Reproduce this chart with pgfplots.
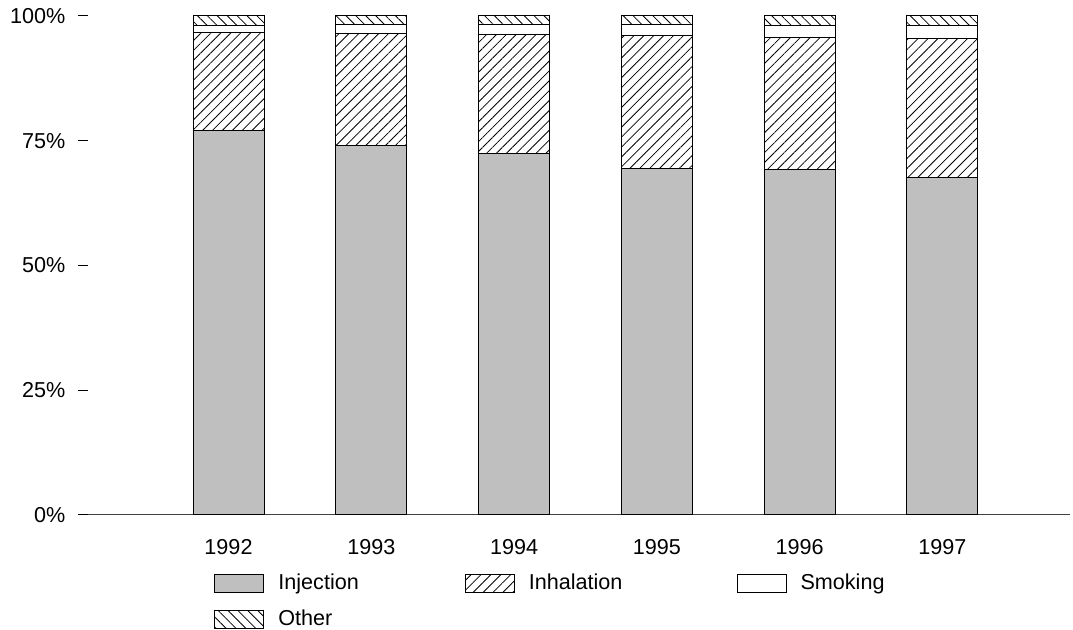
\documentclass[border=0pt]{standalone}
\usepackage{fontspec}
\setmainfont{Liberation Sans}
\usepackage{pgfplots}
\pgfplotsset{compat=1.18}
\usetikzlibrary{patterns.meta}
\definecolor{injgray}{RGB}{191,191,191}
\pgfplotsset{boxlegend/.style={legend image code/.code={\draw[##1, line width=0.5pt] (0pt,-4.5pt) rectangle (24.5pt,4.5pt);}},
  boxlegendshift/.style={legend image code/.code={\path (0pt,0pt); \draw[##1, line width=0.5pt] (4pt,-4.5pt) rectangle (28.5pt,4.5pt);}}}
\begin{document}
\fontsize{10.8}{12.9}\selectfont
\begin{tikzpicture}
\useasboundingbox (-44pt,-57.5pt) rectangle (492.5pt,257.5pt);
\begin{axis}[
  at={(0,0)}, anchor=south west,
  scale only axis, width=491pt, height=249.5pt,
  ybar stacked, bar width=35.5pt,
  xmin=1991.016, xmax=1997.893, ymin=0, ymax=100,
  axis x line=bottom, axis y line=left,
  axis line style={-, line width=0.5pt, draw=black!75},
  y axis line style={draw=none},
  xtick={1992,1993,1994,1995,1996,1997},
  xticklabels={1992,1993,1994,1995,1996,1997},
  x tick style={draw=none},
  xticklabel style={yshift=-3.5pt},
  ytick={0,25,50,75,100},
  yticklabels={0\%,25\%,50\%,75\%,100\%},
  y tick style={line width=0.5pt, draw=black},
  tick align=outside, major tick length=5pt,
  yticklabel style={xshift=-2.5pt},
  legend columns=3,
  legend cell align=left,
  legend style={draw=none, fill=none, at={(0.1222,-0.11)}, anchor=north west,
    nodes={inner sep=0pt, font=\fontsize{10.8}{12.9}\selectfont},
    /tikz/every odd column/.append style={column sep=7pt},
    /tikz/every even column/.append style={column sep=53pt},
    row sep=8.5pt},
]
\addplot+[fill=injgray, draw=black, line width=0.5pt, boxlegend]
  coordinates {(1992,77.1) (1993,74.0) (1994,72.5) (1995,69.5) (1996,69.3) (1997,67.7)};
\addlegendentry{Injection}
\addplot+[fill=white, pattern={Lines[angle=45,distance=3.5pt,line width=0.4pt]}, draw=black, line width=0.5pt, boxlegend]
  coordinates {(1992,19.5) (1993,22.5) (1994,23.8) (1995,26.6) (1996,26.4) (1997,27.7)};
\addlegendentry{Inhalation}
\addplot+[fill=white, draw=black, line width=0.5pt, boxlegendshift]
  coordinates {(1992,1.5) (1993,1.7) (1994,2.0) (1995,2.1) (1996,2.4) (1997,2.7)};
\addlegendentry{Smoking}
\addplot+[fill=white, pattern={Lines[angle=-45,distance=3.5pt,line width=0.4pt]}, draw=black, line width=0.5pt, boxlegend]
  coordinates {(1992,1.9) (1993,1.8) (1994,1.7) (1995,1.8) (1996,1.9) (1997,1.9)};
\addlegendentry{Other}
\end{axis}
\end{tikzpicture}
\end{document}
